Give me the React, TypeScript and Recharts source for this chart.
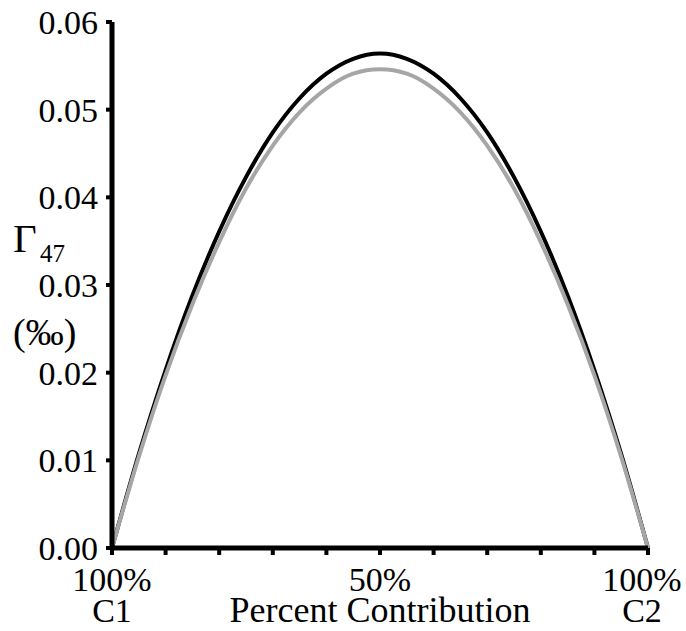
import React from "react";
import { LineChart, Line, XAxis, YAxis, Label } from "recharts";

// mixing share of end member C2, in percent
const shares = [0, 5, 10, 15, 20, 25, 30, 35, 40, 45, 50, 55, 60, 65, 70, 75, 80, 85, 90, 95, 100];

// Γ47 (‰) for the two mixing curves
const gammaDark = [
  0, 0.0107, 0.0203, 0.0288, 0.0361, 0.0423, 0.0474, 0.0513, 0.0541, 0.0558, 0.0564,
  0.0558, 0.0541, 0.0513, 0.0474, 0.0423, 0.0361, 0.0288, 0.0203, 0.0107, 0,
];
const gammaLight = [
  0, 0.0104, 0.0197, 0.0278, 0.0349, 0.041, 0.0459, 0.0497, 0.0524, 0.0541, 0.0546,
  0.0541, 0.0524, 0.0497, 0.0459, 0.041, 0.0349, 0.0278, 0.0197, 0.0104, 0,
];

const yTicks = [0, 0.01, 0.02, 0.03, 0.04, 0.05, 0.06];
const xTicks = [0, 10, 20, 30, 40, 50, 60, 70, 80, 90, 100];

// two-line labels under the x axis, keyed by tick value
const xLabelTop: Record<number, string> = { 0: "100%", 50: "50%", 100: "100%" };
const xLabelBottom: Record<number, string> = { 0: "C1", 50: "Percent Contribution", 100: "C2" };

const data = shares.map((s, i) => ({ share: s, dark: gammaDark[i], light: gammaLight[i] }));

const FONT = "Liberation Serif";

function XTick(props: any) {
  const { x, y, payload } = props;
  const v = payload.value as number;
  if (!(v in xLabelTop)) return null;
  // the last pair is nudged inward so it stays on the canvas
  const cx = v === 100 ? x - 6 : x;
  return (
    <g fill="#000" fontFamily={FONT}>
      <text x={cx} y={y + 34} textAnchor="middle" fontSize={34}>
        {xLabelTop[v]}
      </text>
      <text x={cx} y={y + 65} textAnchor="middle" fontSize={v === 50 ? 36 : 34}>
        {xLabelBottom[v]}
      </text>
    </g>
  );
}

function YTick(props: any) {
  const { x, y, payload } = props;
  return (
    <text x={x} y={y + 12} textAnchor="end" fontSize={34} fill="#000" fontFamily={FONT}>
      {(payload.value as number).toFixed(2)}
    </text>
  );
}

function YTitle(props: any) {
  const vb = props.viewBox || { x: 0, y: 0 };
  const left = vb.x + 13;
  const top = vb.y;
  return (
    <g fill="#000" fontFamily={FONT}>
      <text x={left} y={top + 230} fontSize={41}>
        Γ
      </text>
      <text x={left + 27} y={top + 240} fontSize={25}>
        47
      </text>
      <text x={left} y={top + 323} fontSize={38}>
        (‰)
      </text>
    </g>
  );
}

export default function App() {
  return (
    <div style={{ position: "absolute", left: 0, top: 0, background: "#fff" }}>
      <LineChart
        width={686}
        height={631}
        data={data}
        margin={{ top: 22, right: 38, bottom: 0, left: 0 }}
      >
        <XAxis
          dataKey="share"
          type="number"
          domain={[0, 100]}
          ticks={xTicks}
          interval={0}
          height={83}
          axisLine={{ stroke: "#000", strokeWidth: 5 }}
          tickLine={{ stroke: "#000", strokeWidth: 4 }}
          tickSize={7}
          tick={<XTick />}
        />
        <YAxis
          type="number"
          domain={[0, 0.06]}
          ticks={yTicks}
          interval={0}
          width={112}
          axisLine={{ stroke: "#000", strokeWidth: 5 }}
          tickLine={{ stroke: "#000", strokeWidth: 4 }}
          tickSize={6}
          tickMargin={8}
          tick={<YTick />}
        >
          <Label content={<YTitle />} />
        </YAxis>
        <Line
          type="monotone"
          dataKey="dark"
          stroke="#000"
          strokeWidth={4}
          dot={false}
          isAnimationActive={false}
        />
        <Line
          type="monotone"
          dataKey="light"
          stroke="#a6a6a6"
          strokeWidth={4}
          dot={false}
          isAnimationActive={false}
        />
      </LineChart>
    </div>
  );
}
